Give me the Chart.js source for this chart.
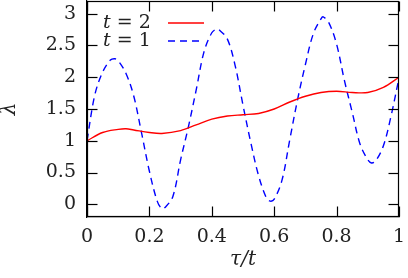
<!DOCTYPE html>
<html>
<head>
<meta charset="utf-8">
<script src="https://cdn.jsdelivr.net/npm/chart.js@4/dist/chart.umd.min.js"></script>
<style>
  html, body { margin: 0; padding: 0; background: #ffffff; }
  #wrap { width: 408px; height: 278px; }
</style>
</head>
<body>
<div id="wrap"><canvas id="c" width="408" height="278"></canvas></div>
<script>
// ---- Data ----
const seriesNames = ['t = 2', 't = 1'];
const redX = [0, 0.05, 0.1, 0.125, 0.15, 0.2, 0.24, 0.3, 0.35, 0.4, 0.45, 0.5, 0.55, 0.6, 0.65, 0.7, 0.75, 0.8, 0.85, 0.9, 0.95, 1.0];
const redY = [1.00, 1.13, 1.18, 1.19, 1.17, 1.13, 1.115, 1.16, 1.25, 1.34, 1.39, 1.41, 1.43, 1.50, 1.61, 1.70, 1.76, 1.78, 1.76, 1.76, 1.84, 2.00];
const blueX = [0, 0.025, 0.05, 0.075, 0.09, 0.1, 0.125, 0.15, 0.175, 0.2, 0.225, 0.24, 0.25, 0.275, 0.3, 0.325, 0.35, 0.375, 0.4, 0.416, 0.425, 0.45, 0.475, 0.5, 0.525, 0.55, 0.575, 0.587, 0.6, 0.625, 0.65, 0.675, 0.7, 0.725, 0.75, 0.757, 0.775, 0.8, 0.825, 0.85, 0.875, 0.9, 0.912, 0.925, 0.95, 0.975, 1.0];
const blueY = [1.00, 1.72, 2.08, 2.27, 2.29, 2.26, 2.06, 1.70, 1.12, 0.52, 0.05, -0.07, -0.05, 0.12, 0.70, 1.22, 1.80, 2.40, 2.70, 2.76, 2.74, 2.60, 2.18, 1.56, 0.97, 0.45, 0.10, 0.05, 0.08, 0.38, 1.02, 1.65, 2.20, 2.68, 2.92, 2.95, 2.86, 2.52, 1.95, 1.45, 0.95, 0.70, 0.65, 0.68, 0.92, 1.40, 1.99];
const xTicks = [0, 0.2, 0.4, 0.6, 0.8, 1];
const xTickLabels = ['0', '0.2', '0.4', '0.6', '0.8', '1'];
const yTicks = [0, 0.5, 1, 1.5, 2, 2.5, 3];
const yTickLabels = ['0', '0.5', '1', '1.5', '2', '2.5', '3'];
const xTitle = 'τ/t';
const yTitle = 'λ';

const FONT = "'DejaVu Serif', 'Liberation Serif', serif";

const toPts = (xs, ys) => xs.map((x, i) => ({x: x, y: ys[i]}));

const framePlugin = {
  id: 'frame',
  afterDraw(chart) {
    const ctx = chart.ctx;
    const a = chart.chartArea;
    const sx = chart.scales.x, sy = chart.scales.y;
    ctx.save();
    ctx.setLineDash([]);
    ctx.globalAlpha = 1;
    ctx.globalCompositeOperation = 'source-over';
    ctx.strokeStyle = 'rgb(0,0,0)';
    ctx.lineWidth = 1.2;
    const L = 10;
    const left = Math.round(a.left) + 0.5, right = Math.round(a.right) - 0.5;
    const top = Math.round(a.top) + 0.5, bottom = Math.round(a.bottom) - 0.5;
    for (const v of xTicks) {
      const px = Math.round(sx.getPixelForValue(v)) + 0.5;
      ctx.beginPath(); ctx.moveTo(px, bottom); ctx.lineTo(px, bottom - L); ctx.stroke();
      ctx.beginPath(); ctx.moveTo(px, top); ctx.lineTo(px, top + L); ctx.stroke();
    }
    for (const v of yTicks) {
      const py = Math.round(sy.getPixelForValue(v)) + 0.5;
      ctx.beginPath(); ctx.moveTo(left, py); ctx.lineTo(left + L, py); ctx.stroke();
      ctx.beginPath(); ctx.moveTo(right, py); ctx.lineTo(right - L, py); ctx.stroke();
    }
    ctx.strokeRect(left, top, right - left, bottom - top);

    // legend: text then line sample
    chart.data.datasets.forEach((ds, i) => {
      const y = a.top + 22 + i * 18;
      let x = a.left + 16;
      const parts = ds.label.split(' ');
      ctx.fillStyle = '#222';
      ctx.textBaseline = 'middle';
      ctx.textAlign = 'left';
      ctx.font = "italic 19px " + FONT;
      ctx.fillText(parts[0], x, y);
      x += ctx.measureText(parts[0]).width;
      ctx.font = "19px " + FONT;
      const rest = ' ' + parts.slice(1).join(' ');
      ctx.fillText(rest, x, y);
      ctx.beginPath();
      ctx.strokeStyle = ds.borderColor;
      ctx.lineWidth = ds.borderWidth;
      ctx.setLineDash(ds.borderDash || []);
      ctx.moveTo(a.left + 81, y);
      ctx.lineTo(a.left + 117, y);
      ctx.stroke();
    });
    ctx.restore();
  }
};

function fixPad(s) {
  s.paddingTop = 0; s.paddingBottom = 0; s.paddingLeft = 0; s.paddingRight = 0;
}

new Chart(document.getElementById('c'), {
  type: 'scatter',
  data: {
    datasets: [
      { label: seriesNames[0], data: toPts(redX, redY), showLine: true, borderColor: '#ff0000', borderWidth: 1.4,
        pointRadius: 0, tension: 0.35, fill: false },
      { label: seriesNames[1], data: toPts(blueX, blueY), showLine: true, borderColor: '#0000ff', borderWidth: 1.4,
        borderDash: [7, 5], pointRadius: 0, tension: 0.35, fill: false }
    ]
  },
  options: {
    responsive: false,
    devicePixelRatio: 1,
    animation: false,
    layout: { padding: { left: 0, right: 9, top: 1, bottom: 0 } },
    plugins: { legend: { display: false }, tooltip: { enabled: false } },
    scales: {
      x: {
        type: 'linear', min: 0, max: 1,
        afterBuildTicks: s => { s.ticks = xTicks.map(v => ({value: v})); },
        afterFit: s => { s.height = 61; fixPad(s); },
        grid: { display: true, drawOnChartArea: false, drawTicks: false },
        border: { display: true, color: '#000000', width: 1.2 },
        ticks: { color: '#222', padding: 9, font: { family: FONT, size: 19 },
          callback: (v) => xTickLabels[xTicks.indexOf(v)] },
        title: { display: true, text: xTitle, color: '#222', font: { family: FONT, size: 20, style: 'italic', lineHeight: 1.2 },
          padding: { top: 0, bottom: 6 } }
      },
      y: {
        type: 'linear', min: -0.2, max: 3.2,
        afterBuildTicks: s => { s.ticks = yTicks.map(v => ({value: v})); },
        afterFit: s => { s.width = 87; fixPad(s); },
        grid: { display: true, drawOnChartArea: false, drawTicks: false },
        border: { display: true, color: '#000000', width: 1.2 },
        ticks: { color: '#222', padding: 11, font: { family: FONT, size: 19 },
          callback: (v) => yTickLabels[yTicks.indexOf(v)] },
        title: { display: true, text: yTitle, color: '#222', font: { family: FONT, size: 20, style: 'italic', lineHeight: 1 },
          padding: { top: 0, bottom: 0 } }
      }
    }
  },
  plugins: [framePlugin]
});
</script>
</body>
</html>
